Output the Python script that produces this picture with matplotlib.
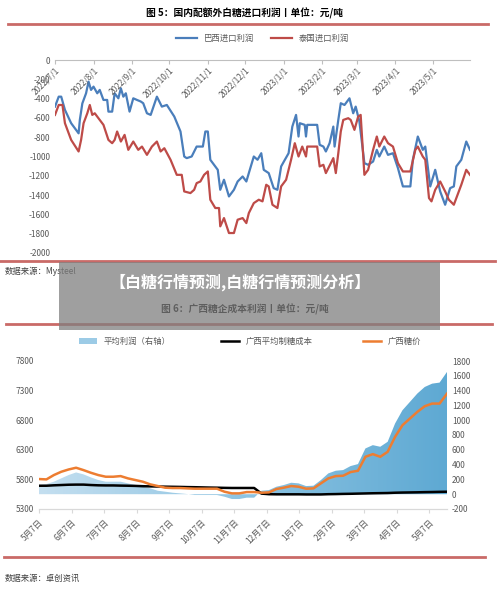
import numpy as np
import pandas as pd
import matplotlib
matplotlib.use("Agg")
import matplotlib.pyplot as plt
from matplotlib.colors import LinearSegmentedColormap
from matplotlib.lines import Line2D
from matplotlib.patches import Patch, Rectangle

plt.rcParams["font.family"] = ["Noto Sans CJK SC", "DejaVu Sans"]
plt.rcParams["axes.unicode_minus"] = False

# ---- 图5：进口利润（按 2022/7/1 起的天数）----
brazil_days = [0, 3, 5, 8, 13, 19, 20, 22, 25, 27, 29, 31, 34, 36, 39, 42, 43, 46, 48, 51, 53, 55, 57, 60, 63, 66,
               69, 71, 74, 77, 82, 86, 90, 96, 101, 104, 106, 110, 114, 119, 121, 123, 125, 131, 133, 136, 140, 144,
               147, 151, 154, 156, 160, 163, 166, 168, 172, 176, 179, 182, 185, 188, 191, 194, 196, 197, 201, 202,
               203, 211, 213, 216, 218, 221, 224, 225, 228, 230, 233, 237, 240, 242, 245, 249, 252, 256, 259, 261,
               265, 268, 272, 276, 280, 286, 288, 292, 296, 298, 302, 306, 310, 314, 318, 321, 323, 327, 331, 334]
brazil = [-483, -380, -380, -517, -655, -760, -620, -450, -345, -224, -310, -276, -345, -310, -414, -414, -535, -535,
          -345, -397, -293, -380, -345, -535, -397, -414, -430, -448, -552, -569, -380, -483, -466, -586, -741, -1000,
          -1017, -1000, -897, -897, -741, -741, -1034, -1138, -1345, -1241, -1414, -1345, -1259, -1207, -1259, -1172,
          -1000, -1034, -966, -1138, -1172, -1328, -1345, -1103, -1034, -966, -690, -569, -793, -655, -672, -793,
          -672, -672, -879, -897, -948, -862, -690, -897, -621, -448, -466, -397, -552, -483, -638, -1069, -1086,
          -1052, -931, -1000, -897, -983, -966, -1120, -1310, -1310, -1034, -793, -931, -897, -1310, -1138, -1362,
          -1500, -1328, -1310, -1103, -1034, -845, -931]
thai_days = [0, 3, 6, 8, 13, 19, 21, 23, 26, 28, 30, 32, 36, 39, 43, 46, 48, 50, 53, 56, 59, 63, 67, 70, 74, 78, 82,
             85, 88, 93, 98, 102, 104, 109, 112, 114, 117, 120, 123, 125, 129, 132, 133, 136, 140, 144, 147, 151, 154,
             156, 160, 164, 167, 170, 172, 175, 179, 182, 186, 190, 193, 196, 199, 202, 203, 211, 213, 216, 218, 222,
             224, 226, 228, 230, 232, 236, 238, 241, 244, 246, 249, 252, 256, 259, 261, 265, 268, 272, 276, 280, 286,
             290, 292, 296, 298, 301, 303, 306, 310, 314, 317, 321, 325, 327, 331, 334]
thai = [-569, -466, -466, -655, -828, -948, -828, -655, -552, -466, -569, -552, -621, -672, -828, -862, -828, -741,
        -845, -776, -931, -845, -931, -897, -983, -897, -845, -948, -914, -1034, -1190, -1190, -1362, -1379, -1345,
        -1276, -1259, -1190, -1155, -1448, -1534, -1534, -1724, -1638, -1793, -1793, -1655, -1638, -1690, -1586,
        -1483, -1448, -1465, -1293, -1310, -1500, -1534, -1310, -1241, -1034, -862, -1000, -897, -1000, -897, -897,
        -1103, -1086, -1172, -1069, -1017, -1172, -966, -741, -621, -603, -621, -724, -586, -569, -1190, -1138, -931,
        -793, -897, -793, -862, -897, -1069, -1155, -1155, -931, -897, -1000, -1034, -1431, -1465, -1345, -1259,
        -1362, -1448, -1500, -1362, -1293, -1138, -1190]
top_ticks = ["2022/7/1", "2022/8/1", "2022/9/1", "2022/10/1", "2022/11/1", "2022/12/1",
             "2023/1/1", "2023/2/1", "2023/3/1", "2023/4/1", "2023/5/1", "2023/6/1"]

# ---- 图6：广西糖企成本利润（周度）----
price = [5806, 5800, 5873, 5929, 5968, 5997, 5957, 5912, 5873, 5845, 5845, 5856, 5817, 5789, 5761, 5716, 5688, 5660,
         5654, 5654, 5648, 5643, 5643, 5643, 5643, 5592, 5564, 5564, 5586, 5586, 5575, 5581, 5637, 5660, 5688, 5676,
         5643, 5648, 5733, 5817, 5856, 5862, 5924, 5946, 6182, 6227, 6182, 6266, 6519, 6716, 6828, 6940, 7036, 7081,
         7081, 7249]
cost = [5693, 5693, 5700, 5705, 5710, 5712, 5712, 5705, 5700, 5698, 5698, 5695, 5693, 5690, 5685, 5682, 5680, 5677,
        5675, 5673, 5670, 5668, 5665, 5662, 5660, 5657, 5655, 5655, 5655, 5655, 5560, 5550, 5548, 5548, 5548, 5548,
        5546, 5546, 5546, 5550, 5552, 5555, 5557, 5560, 5563, 5566, 5568, 5570, 5575, 5578, 5580, 5582, 5585, 5587,
        5590, 5592]
profit = [124, 137, 169, 214, 259, 294, 268, 227, 191, 169, 169, 169, 146, 124, 101, 79, 47, 34, 20, 11, 2, -11, -11,
          -11, -11, -34, -65, -65, -47, -47, 47, 56, 101, 124, 155, 146, 110, 115, 191, 281, 317, 326, 380, 407, 618,
          663, 641, 708, 955, 1135, 1247, 1360, 1449, 1494, 1508, 1652]
bottom_ticks = ["5月7日", "6月7日", "7月7日", "8月7日", "9月7日", "10月7日", "11月7日",
                "12月7日", "1月7日", "2月7日", "3月7日", "4月7日", "5月7日"]

W, H = 500, 594
fig = plt.figure(figsize=(W / 100, H / 100), dpi=100)


def box(l, t, r, b):
    return [l / W, 1 - b / H, (r - l) / W, (b - t) / H]


def hline(y, x0, x1, color="#c0504d", lw=2.0):
    fig.add_artist(Line2D([x0 / W, x1 / W], [1 - y / H, 1 - y / H], color=color, lw=lw, alpha=0.85))


GREY = "#595959"

# ===== 图5 =====
fig.text(245 / W, 1 - 13 / H, "图 5：国内配额外白糖进口利润丨单位：元/吨", ha="center", va="center",
         fontsize=7, fontweight="bold")
hline(24, 8, 488)
ax = fig.add_axes(box(55, 60, 470, 253))
base = pd.Timestamp("2022-07-01")
bd = base + pd.to_timedelta(brazil_days, unit="D")
td = base + pd.to_timedelta(thai_days, unit="D")
ax.plot(bd, brazil, color="#4a7ebb", lw=1.6, label="巴西进口利润")
ax.plot(td, thai, color="#be4b48", lw=1.6, label="泰国进口利润")
ax.set_ylim(-2000, 0)
tick_dates = pd.to_datetime(top_ticks)
ax.set_xlim(tick_dates[0], pd.Timestamp("2023-05-31"))
ax.set_yticks(range(-2000, 1, 200))
ax.tick_params(axis="y", length=0, labelsize=6, colors=GREY)
ax.xaxis.tick_top()
ax.set_xticks(tick_dates[:-1])
ax.set_xticklabels([])
ax.tick_params(axis="x", direction="in", length=3, color="#bfbfbf")
for s in ["left", "right", "bottom"]:
    ax.spines[s].set_visible(False)
ax.spines["top"].set_color("#bfbfbf")
for d, lab in zip(tick_dates[:-1], top_ticks[:-1]):
    ax.text(d, -60, lab, rotation=45, ha="right", va="top", rotation_mode="anchor",
            fontsize=6, color=GREY)
ax.legend(loc="lower center", bbox_to_anchor=(0.5, 1.05), ncol=2, frameon=False, fontsize=6,
          handlelength=2.5, labelcolor=GREY)
hline(261, 0, 495)
fig.text(5 / W, 1 - 271 / H, "数据来源：Mysteel", fontsize=6, color="#404040", va="center")

# ===== 图6 =====
fig.text(245 / W, 1 - 309 / H, "图 6：广西糖企成本利润丨单位：元/吨", ha="center", va="center",
         fontsize=7, fontweight="bold")
hline(324, 6, 492)
axr = fig.add_axes(box(39, 361, 447, 509))
x = np.arange(len(profit))
poly = axr.fill_between(x, 0, profit, color="none", lw=0)
cmap = LinearSegmentedColormap.from_list("b", ["#c4dff0", "#8ec4e2", "#5ea9d3"])
img = axr.imshow(np.linspace(0, 1, 256).reshape(1, -1), cmap=cmap, aspect="auto",
                 extent=[0, len(profit) - 1, -200, 1800], zorder=1)
img.set_clip_path(poly.get_paths()[0], transform=axr.transData)
axr.set_xlim(0, len(profit) - 1)
axr.set_ylim(-200, 1800)
axl = axr.twinx()
axr.yaxis.tick_right()
axl.yaxis.tick_left()
axr.set_yticks(range(-200, 1801, 200))
axr.tick_params(axis="y", length=0, labelsize=6, colors=GREY, labelleft=False, labelright=True)
axl.plot(x, cost, color="black", lw=1.8, zorder=3)
axl.plot(x, price, color="#ed7d31", lw=1.8, zorder=4)
axl.set_ylim(5300, 7800)
axl.set_yticks(range(5300, 7801, 500))
axl.tick_params(axis="y", length=0, labelsize=6, colors=GREY, labelleft=True, labelright=False)
for a in (axr, axl):
    for s in ["left", "right", "top"]:
        a.spines[s].set_visible(False)
    a.spines["bottom"].set_color("#d9d9d9")
month_pos = np.linspace(0, 52.6, len(bottom_ticks))
axr.set_xticks(month_pos)
axr.set_xticklabels(bottom_ticks, rotation=45, ha="right", rotation_mode="anchor", fontsize=6, color=GREY)
axr.tick_params(axis="x", length=3, color="#d9d9d9")
handles = [Patch(facecolor="#9ccbe6", label="平均利润（右轴）"),
           Line2D([], [], color="black", lw=1.8, label="广西平均制糖成本"),
           Line2D([], [], color="#ed7d31", lw=1.8, label="广西糖价")]
fig.legend(handles=handles, loc="center", bbox_to_anchor=(0.5, 1 - 341 / H), ncol=3, frameon=False,
           fontsize=6, labelcolor=GREY, columnspacing=6, handlelength=2.2)
hline(557, 4, 485)
fig.text(5 / W, 1 - 578 / H, "数据来源：卓创资讯", fontsize=6, color="#404040", va="center")

# ---- 覆盖横幅 ----
fig.add_artist(Rectangle((59 / W, 1 - 330 / H), 381 / W, 68 / H, transform=fig.transFigure,
                         facecolor="#7f7f7f", alpha=0.75, edgecolor="none", zorder=10))
fig.text(240 / W, 1 - 282 / H, "【白糖行情预测,白糖行情预测分析】", ha="center", va="center",
         fontsize=11.5, fontweight="bold", color="white", zorder=11)

fig.savefig("out.png", dpi=100)
